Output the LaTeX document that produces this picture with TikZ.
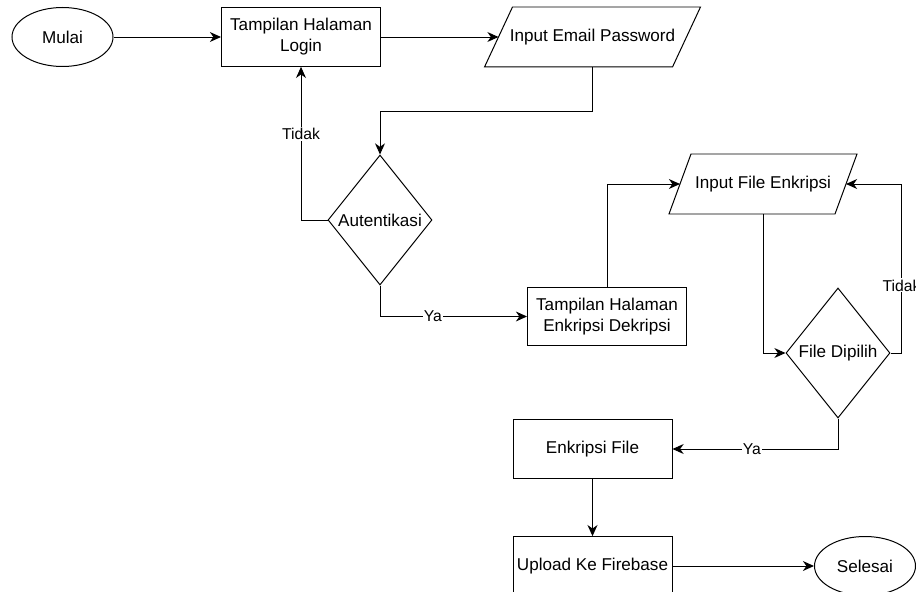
\documentclass[tikz,border=0pt]{standalone}
\usepackage{fontspec}
\setmainfont{Liberation Sans}
\usepackage{tikz}
\usetikzlibrary{shapes.geometric, arrows.meta, calc}

\tikzset{
  base/.style={font=\fontsize{14.6}{18}\selectfont, align=center, line width=0.85pt, inner sep=2pt},
  box/.style={base, draw, rectangle, minimum width=4.77cm, minimum height=1.76cm},
  term/.style={base, draw, ellipse, minimum width=3.03cm, minimum height=1.77cm},
  decision/.style={base, draw, diamond, inner sep=0pt, minimum width=3.12cm, minimum height=3.9cm},
  io/.style={base, rectangle, minimum height=1.77cm},
  arr/.style={line width=0.85pt, -{Stealth[length=9.5pt, width=8.5pt, inset=3pt]}},
  lbl/.style={font=\fontsize{13.4}{15}\selectfont, fill=white, inner sep=1pt},
}

\begin{document}
\begin{tikzpicture}[x=0.03cm, y=-0.03cm]
  \useasboundingbox (0,0) rectangle (916,592);
  \node[term] (mulai) at (62.5,37) {Mulai};
  \node[box] (login) at (301,37) {Tampilan Halaman\\Login};
  \node[io, minimum width=5.61cm] (email) at (592.5,37) {Input Email Password};
  \draw[line width=0.85pt] ($(email.north west)+(14,0)$) -- ($(email.north east)+(14,0)$)
    -- ($(email.south east)-(14,0)$) -- ($(email.south west)-(14,0)$) -- cycle;
  \node[decision] (auth) at (380,220) {Autentikasi};
  \node[box] (encdec) at (607,316.5) {Tampilan Halaman\\Enkripsi Dekripsi};
  \node[io, minimum width=4.95cm] (inputfile) at (763,184) {Input File Enkripsi};
  \draw[line width=0.85pt] ($(inputfile.north west)+(11,0)$) -- ($(inputfile.north east)+(11,0)$)
    -- ($(inputfile.south east)-(11,0)$) -- ($(inputfile.south west)-(11,0)$) -- cycle;
  \node[decision] (pilih) at (838,353) {File Dipilih};
  \node[box] (encfile) at (592.5,449) {Enkripsi File};
  \node[box] (upload) at (592.5,566) {Upload Ke Firebase};
  \node[term] (selesai) at (865,566) {Selesai};

  \draw[arr] (mulai) -- (login);
  \draw[arr] (login) -- (email);
  \draw[arr] (email.south) -- ++(0,44) -| (auth.north);
  \draw[arr] (auth.west) -| node[lbl, pos=0.78] {Tidak} (login.south);
  \draw[arr] (auth.south) |- node[lbl, pos=0.68] {Ya} (encdec.west);
  \draw[arr] (encdec.north) |- (inputfile.west);
  \draw[arr] (inputfile.south) |- (pilih.west);
  \draw[arr] (pilih.east) -- ++(11,0) |- node[lbl, pos=0.2] {Tidak} (inputfile.east);
  \draw[arr] (pilih.south) |- node[lbl, pos=0.76] {Ya} (encfile.east);
  \draw[arr] (encfile) -- (upload);
  \draw[arr] (upload) -- (selesai);
\end{tikzpicture}
\end{document}
